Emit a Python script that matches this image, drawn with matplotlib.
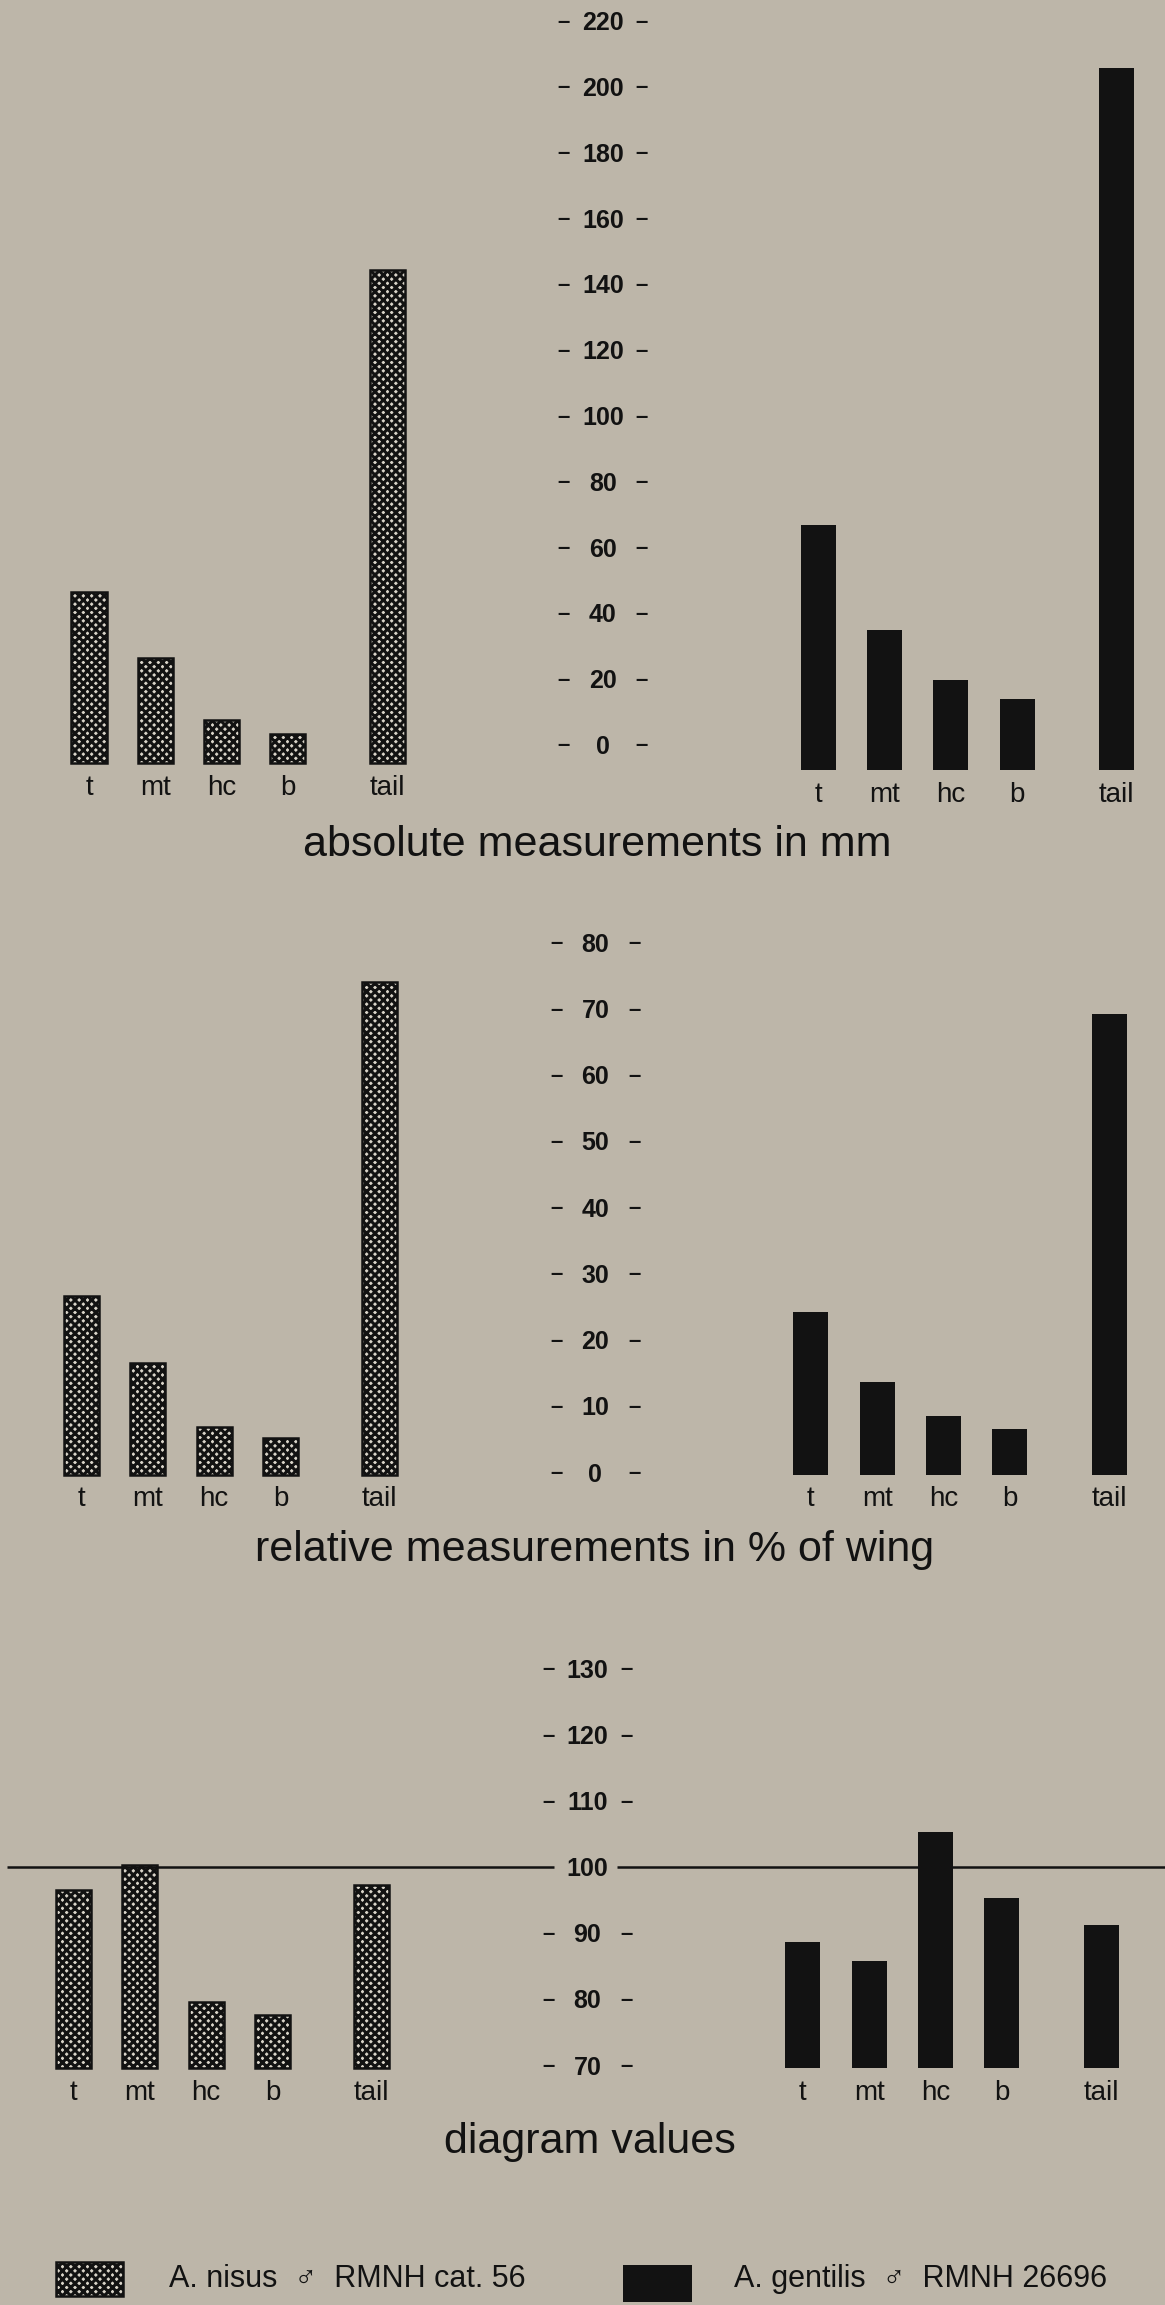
import matplotlib
matplotlib.use("Agg")
import matplotlib.pyplot as plt
from matplotlib.patches import Rectangle

W, H, DPI = 1165, 2305, 100
UNIT = 66.3  # pixels between neighbouring bars
BG = "#bdb6a9"
STIPPLE_FACE = "#d9d4c9"
INK = "#121212"

plt.rcParams["font.family"] = ["Liberation Sans", "DejaVu Sans"]
plt.rcParams["hatch.linewidth"] = 2.2

# ---- data ---------------------------------------------------------------
categories = ["t", "mt", "hc", "b", "tail"]
cat_pos = [0, 1, 2, 3, 4.5]
group_gap = 11  # right group starts 11 units after the left one
mid_pos = 7.75  # scale labels sit between the two groups

# absolute measurements in mm (bar lengths)
abs_nisus = [52, 32, 13, 9, 150]
abs_gentilis = [74.5, 42.5, 27.5, 21.5, 213.5]
abs_ticks = list(range(0, 221, 20))

# relative measurements in % of wing
rel_nisus = [27.0, 16.8, 7.2, 5.5, 74.4]
rel_gentilis = [24.6, 14.0, 8.8, 6.9, 69.6]
rel_ticks = list(range(0, 81, 10))

# diagram values
diag_nisus = [96.8, 100.7, 80.0, 77.9, 97.7]
diag_gentilis = [89.0, 86.1, 105.7, 95.7, 91.6]
diag_ticks = list(range(70, 131, 10))
diag_ref = 100

titles = ["absolute measurements in mm",
          "relative measurements in % of wing",
          "diagram values"]
legend_labels = ["A. nisus  ♂  RMNH cat. 56", "A. gentilis  ♂  RMNH 26696"]

fig = plt.figure(figsize=(W / DPI, H / DPI), dpi=DPI, facecolor=BG)


def row_axes(top, bottom, ref_px, ref_val, ppu, x0_px):
    # axes spanning the page width, pixel layout turned into data limits
    ax = fig.add_axes([0, 1 - bottom / H, 1, (bottom - top) / H])
    ax.set_ylim(ref_val - (bottom - ref_px) / ppu, ref_val + (ref_px - top) / ppu)
    ax.set_xlim(-x0_px / UNIT, (W - x0_px) / UNIT)
    ax.axis("off")
    return ax


def draw_group(ax, offset, heights, base, stipple):
    xs = [p + offset for p in cat_pos]
    if stipple:
        ax.bar(xs, heights, bottom=base, width=0.53, facecolor=STIPPLE_FACE,
               edgecolor=INK, hatch="xxxx", linewidth=1.8)
    else:
        ax.bar(xs, heights, bottom=base, width=0.53, color=INK, linewidth=0)
    for x, c in zip(xs, categories):
        ax.annotate(c, (x, base), xytext=(0, -25), textcoords="offset pixels",
                    ha="center", va="center", fontsize=20, color=INK)


def scale_labels(ax, ticks, plain=None):
    for v in ticks:
        ax.text(mid_pos, v, f"{v}", ha="center", va="center", fontsize=18,
                fontweight="bold", color=INK)
        if v == plain:
            continue
        for dx in (-39, 39):
            ax.annotate("–", (mid_pos, v), xytext=(dx, 1),
                        textcoords="offset pixels", ha="center", va="center",
                        fontsize=16, fontweight="bold", color=INK)


# ---- row 1: absolute -----------------------------------------------------
ax1 = row_axes(0, 815, 747, 0, 3.29, 89)
draw_group(ax1, 0, abs_nisus, -4.9, True)
draw_group(ax1, group_gap, abs_gentilis, -7.0, False)
scale_labels(ax1, abs_ticks)

# ---- row 2: relative -----------------------------------------------------
ax2 = row_axes(880, 1525, 1474.5, 0, 6.62, 81.5)
draw_group(ax2, 0, rel_nisus, 0, True)
draw_group(ax2, group_gap, rel_gentilis, 0, False)
scale_labels(ax2, rel_ticks)

# ---- row 3: diagram values -----------------------------------------------
ax3 = row_axes(1600, 2115, 2067.6, 70, 6.61, 73.5)
draw_group(ax3, 0, [v - 70 for v in diag_nisus], 70, True)
draw_group(ax3, group_gap, [v - 70 for v in diag_gentilis], 70, False)
scale_labels(ax3, diag_ticks, plain=diag_ref)
xl = ax3.get_xlim()
ax3.hlines(diag_ref + 0.4, xl[0] + 0.1, mid_pos - 0.5, color=INK, linewidth=1.8)
ax3.hlines(diag_ref + 0.4, mid_pos + 0.45, xl[1], color=INK, linewidth=1.8)

# ---- titles --------------------------------------------------------------
for t, (cx, cy) in zip(titles, [(597, 845), (595, 1550), (590, 2142)]):
    fig.text(cx / W, 1 - cy / H, t, ha="center", va="center",
             fontsize=31, color=INK)

# ---- legend --------------------------------------------------------------
fig.add_artist(Rectangle((56 / W, 1 - 2296 / H), 67 / W, 34 / H,
                         transform=fig.transFigure, facecolor=STIPPLE_FACE,
                         edgecolor=INK, hatch="xxxx", linewidth=1.8))
fig.add_artist(Rectangle((623 / W, 1 - 2302 / H), 69 / W, 37 / H,
                         transform=fig.transFigure, facecolor=INK,
                         edgecolor=INK, linewidth=0))
fig.text(169 / W, 1 - 2279 / H, legend_labels[0], ha="left", va="center",
         fontsize=22, color=INK)
fig.text(734 / W, 1 - 2279 / H, legend_labels[1], ha="left", va="center",
         fontsize=22, color=INK)

fig.savefig("out.png", dpi=DPI, facecolor=BG)
